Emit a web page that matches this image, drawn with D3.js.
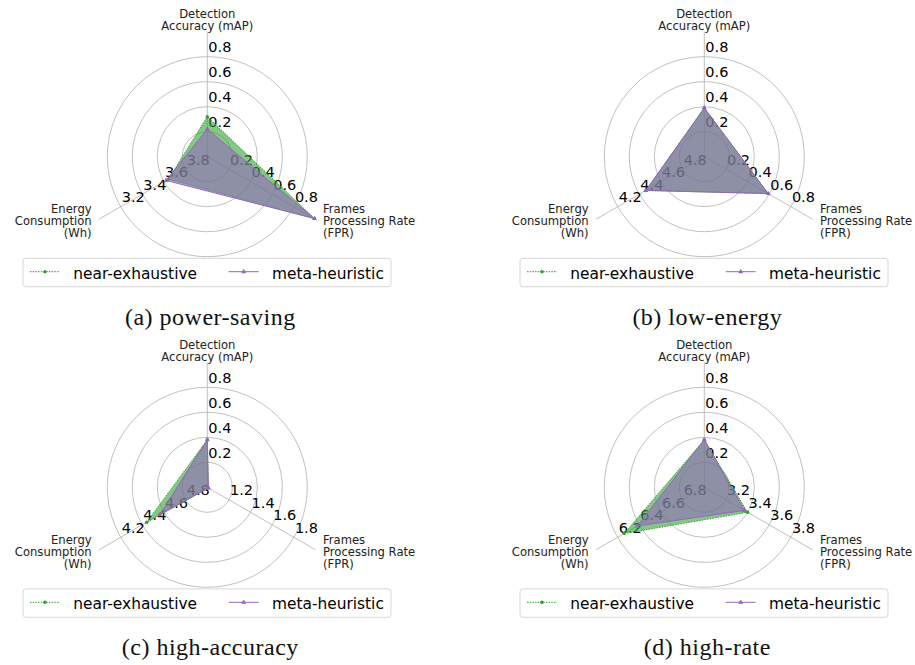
<!DOCTYPE html>
<html>
<head>
<meta charset="utf-8">
<script src="https://cdn.jsdelivr.net/npm/d3@7"></script>
<style>
  body { margin: 0; background: #fff; }
  svg { display: block; }
</style>
</head>
<body>
<div id="chart"></div>
<script>
// data
const axisNames = [["Detection", "Accuracy (mAP)"], ["Frames", "Processing Rate", "(FPR)"], ["Energy", "Consumption", "(Wh)"]]
const panelNames = ["(a) power-saving", "(b) low-energy", "(c) high-accuracy", "(d) high-rate"]
const seriesNames = ["near-exhaustive", "meta-heuristic"]

// value at the centre, value at the end of the spoke
const detDomains = [[0, 1], [0, 1], [0, 1], [0, 1]]
const fprDomains = [[0, 1], [0, 1], [1, 2], [3, 4]]
const energyDomains = [[4, 3], [5, 4], [5, 4], [7, 6]]

const detTicks = [[0.2, 0.4, 0.6, 0.8], [0.2, 0.4, 0.6, 0.8], [0.2, 0.4, 0.6, 0.8], [0.2, 0.4, 0.6, 0.8]]
const fprTicks = [[0.2, 0.4, 0.6, 0.8], [0.2, 0.4, 0.6, 0.8], [1.2, 1.4, 1.6, 1.8], [3.2, 3.4, 3.6, 3.8]]
const energyTicks = [[3.8, 3.6, 3.4, 3.2], [4.8, 4.6, 4.4, 4.2], [4.8, 4.6, 4.4, 4.2], [6.8, 6.6, 6.4, 6.2]]

// [detection mAP, FPR, energy Wh] per panel
const nearExhaustive = [[0.32, 0.99, 3.64], [0.39, 0.59, 4.46], [0.38, 1.01, 4.44], [0.38, 3.40, 6.26]]
const metaHeuristic = [[0.22, 0.99, 3.62], [0.39, 0.59, 4.46], [0.38, 1.01, 4.56], [0.38, 3.37, 6.38]]

const W = 915, H = 665
const R = 125 // spoke length
const angles = [90, -30, 210].map(a => a * Math.PI / 180)
const centers = [[207.3, 156.7], [704.3, 156.7], [207.3, 487.3], [704.3, 487.3]]
const colors = ["#2ca02c", "#9467bd"]
const fmt = d3.format(".1f")

const svg = d3.select("#chart").append("svg")
  .attr("width", W).attr("height", H)
  .style("font-family", "'DejaVu Sans', sans-serif")

const pt = (i, r) => [r * Math.cos(angles[i]), -r * Math.sin(angles[i])]

panelNames.forEach((name, p) => {
  const [cx, cy] = centers[p]
  const g = svg.append("g").attr("transform", `translate(${cx},${cy})`)
  const scales = [detDomains[p], fprDomains[p], energyDomains[p]].map(d => d3.scaleLinear().domain(d).range([0, R]))
  const ticks = [detTicks[p], fprTicks[p], energyTicks[p]]

  // rings (same radii on every axis)
  g.selectAll("circle.ring").data(ticks[0]).enter().append("circle")
    .attr("class", "ring")
    .attr("r", d => scales[0](d))
    .attr("fill", "none").attr("stroke", "#b0b0b0").attr("stroke-width", 0.8)

  // spokes
  g.selectAll("line.spoke").data(angles).enter().append("line")
    .attr("x1", 0).attr("y1", 0)
    .attr("x2", (d, i) => pt(i, R)[0]).attr("y2", (d, i) => pt(i, R)[1])
    .attr("stroke", "#b0b0b0").attr("stroke-width", 0.8)

  // tick labels along each spoke
  ticks.forEach((tv, i) => {
    g.selectAll(null).data(tv).enter().append("text")
      .attr("x", d => pt(i, scales[i](d))[0] + 1)
      .attr("y", d => pt(i, scales[i](d))[1] - 4.5)
      .attr("font-size", 14.5).attr("fill", "#000")
      .text(d => fmt(d))
  })

  // axis titles
  const tPos = [[0, -138.5, "middle"], [115.7, 56.3, "start"], [-115.7, 56.3, "end"]]
  axisNames.forEach((lines, i) => {
    const t = g.append("text")
      .attr("x", tPos[i][0]).attr("y", tPos[i][1])
      .attr("text-anchor", tPos[i][2])
      .attr("font-size", 11.6).attr("fill", "#222")
    lines.forEach((l, k) => t.append("tspan").attr("x", tPos[i][0]).attr("dy", k ? 12.1 : 0).text(l))
  })

  // series: line then fill, in plot order
  const radial = d3.line()
  ;[nearExhaustive[p], metaHeuristic[p]].forEach((vals, s) => {
    const pts = vals.map((v, i) => pt(i, scales[i](v)))
    g.append("path")
      .attr("d", radial(pts) + "Z")
      .attr("fill", colors[s]).attr("fill-opacity", 0.58)
      .attr("stroke", colors[s]).attr("stroke-width", 1)
      .attr("stroke-dasharray", s === 0 ? "1.5,1.2" : null)
    if (s === 0) {
      g.selectAll(null).data(pts).enter().append("circle")
        .attr("cx", d => d[0]).attr("cy", d => d[1]).attr("r", 1.7)
        .attr("fill", colors[s])
    } else {
      g.selectAll(null).data(pts).enter().append("path")
        .attr("d", d3.symbol(d3.symbolTriangle, 11))
        .attr("transform", d => `translate(${d[0]},${d[1]})`)
        .attr("fill", colors[s])
    }
  })

  // legend
  const lg = g.append("g").attr("transform", "translate(-184.3,101.6)")
  lg.append("rect").attr("width", 368).attr("height", 28.4).attr("rx", 3)
    .attr("fill", "#fff").attr("stroke", "#d6d6d6").attr("stroke-width", 1)
  const handles = [7, 205.7]
  seriesNames.forEach((sn, s) => {
    const hx = handles[s]
    lg.append("line").attr("x1", hx).attr("x2", hx + 30).attr("y1", 13.4).attr("y2", 13.4)
      .attr("stroke", colors[s]).attr("stroke-width", 1)
      .attr("stroke-dasharray", s === 0 ? "1.5,1.2" : null)
    if (s === 0) {
      lg.append("circle").attr("cx", hx + 15).attr("cy", 13.4).attr("r", 1.7).attr("fill", colors[s])
    } else {
      lg.append("path").attr("d", d3.symbol(d3.symbolTriangle, 11))
        .attr("transform", `translate(${hx + 15},13.4)`).attr("fill", colors[s])
    }
    lg.append("text").attr("x", hx + 43.3).attr("y", 20.5).attr("font-size", 15.4).attr("fill", "#000").text(sn)
  })

  // caption
  g.append("text")
    .attr("x", 3).attr("y", 168)
    .attr("text-anchor", "middle")
    .style("font-family", "'Liberation Serif', serif")
    .attr("font-size", 24).attr("letter-spacing", 0.5).attr("fill", "#111")
    .text(name)
})
</script>
</body>
</html>
